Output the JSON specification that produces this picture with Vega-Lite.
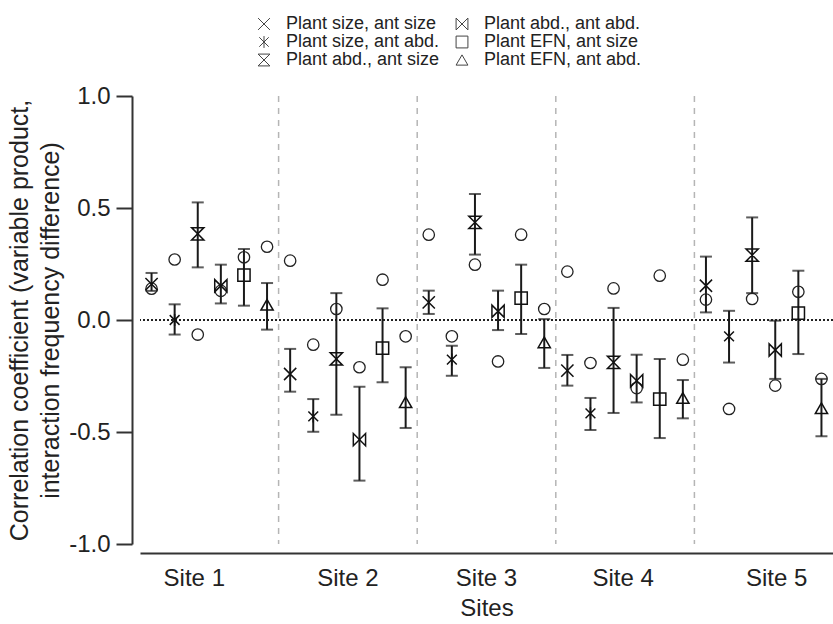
{
  "$schema": "https://vega.github.io/schema/vega-lite/v6.json",
  "autosize": {"type": "none"},
  "padding": {"left": 140, "top": 96, "right": 0, "bottom": 80},
  "width": 693,
  "height": 448,
  "background": "white",
  "config": {
    "font": "Liberation Sans",
    "view": {"stroke": null},
    "legend": {"orient": "none", "legendX": 115, "legendY": -81, "columns": 2, "padding": 0, "rowPadding": 0, "columnPadding": 13, "labelFontSize": 18, "labelColor": "#222", "labelOffset": 13, "symbolSize": 140, "symbolStrokeWidth": 1, "symbolStrokeColor": "#444", "symbolFillColor": "transparent"}
  },
  "datasets": {
    "stats": [
      {"site": "Site 1", "series": "Plant size, ant size", "mean": 0.16, "lo": 0.13, "hi": 0.21, "circ": 0.14},
      {"site": "Site 1", "series": "Plant size, ant abd.", "mean": 0.0, "lo": -0.065, "hi": 0.07, "circ": 0.27},
      {"site": "Site 1", "series": "Plant abd., ant size", "mean": 0.385, "lo": 0.235, "hi": 0.525, "circ": -0.065},
      {"site": "Site 1", "series": "Plant abd., ant abd.", "mean": 0.153, "lo": 0.074, "hi": 0.247, "circ": 0.13},
      {"site": "Site 1", "series": "Plant EFN, ant size", "mean": 0.2, "lo": 0.064, "hi": 0.317, "circ": 0.28},
      {"site": "Site 1", "series": "Plant EFN, ant abd.", "mean": 0.068, "lo": -0.043, "hi": 0.165, "circ": 0.327},
      {"site": "Site 2", "series": "Plant size, ant size", "mean": -0.241, "lo": -0.32, "hi": -0.129, "circ": 0.265},
      {"site": "Site 2", "series": "Plant size, ant abd.", "mean": -0.43, "lo": -0.499, "hi": -0.353, "circ": -0.11},
      {"site": "Site 2", "series": "Plant abd., ant size", "mean": -0.174, "lo": -0.423, "hi": 0.12, "circ": 0.049},
      {"site": "Site 2", "series": "Plant abd., ant abd.", "mean": -0.534, "lo": -0.717, "hi": -0.298, "circ": -0.211},
      {"site": "Site 2", "series": "Plant EFN, ant size", "mean": -0.126, "lo": -0.278, "hi": 0.052, "circ": 0.18},
      {"site": "Site 2", "series": "Plant EFN, ant abd.", "mean": -0.367, "lo": -0.482, "hi": -0.211, "circ": -0.073},
      {"site": "Site 3", "series": "Plant size, ant size", "mean": 0.079, "lo": 0.027, "hi": 0.131, "circ": 0.381},
      {"site": "Site 3", "series": "Plant size, ant abd.", "mean": -0.177, "lo": -0.249, "hi": -0.115, "circ": -0.073},
      {"site": "Site 3", "series": "Plant abd., ant size", "mean": 0.436, "lo": 0.292, "hi": 0.5625, "circ": 0.247},
      {"site": "Site 3", "series": "Plant abd., ant abd.", "mean": 0.039, "lo": -0.045, "hi": 0.131, "circ": -0.185},
      {"site": "Site 3", "series": "Plant EFN, ant size", "mean": 0.098, "lo": -0.0625, "hi": 0.247, "circ": 0.381},
      {"site": "Site 3", "series": "Plant EFN, ant abd.", "mean": -0.1, "lo": -0.214, "hi": 0.004, "circ": 0.049},
      {"site": "Site 4", "series": "Plant size, ant size", "mean": -0.226, "lo": -0.293, "hi": -0.156, "circ": 0.216},
      {"site": "Site 4", "series": "Plant size, ant abd.", "mean": -0.417, "lo": -0.491, "hi": -0.348, "circ": -0.192},
      {"site": "Site 4", "series": "Plant abd., ant size", "mean": -0.189, "lo": -0.415, "hi": 0.054, "circ": 0.141},
      {"site": "Site 4", "series": "Plant abd., ant abd.", "mean": -0.271, "lo": -0.368, "hi": -0.155, "circ": -0.304},
      {"site": "Site 4", "series": "Plant EFN, ant size", "mean": -0.353, "lo": -0.527, "hi": -0.174, "circ": 0.198},
      {"site": "Site 4", "series": "Plant EFN, ant abd.", "mean": -0.348, "lo": -0.439, "hi": -0.268, "circ": -0.177},
      {"site": "Site 5", "series": "Plant size, ant size", "mean": 0.153, "lo": 0.034, "hi": 0.283, "circ": 0.091},
      {"site": "Site 5", "series": "Plant size, ant abd.", "mean": -0.073, "lo": -0.19, "hi": 0.041, "circ": -0.397},
      {"site": "Site 5", "series": "Plant abd., ant size", "mean": 0.29, "lo": 0.12, "hi": 0.458, "circ": 0.094},
      {"site": "Site 5", "series": "Plant abd., ant abd.", "mean": -0.134, "lo": -0.263, "hi": -0.003, "circ": -0.293},
      {"site": "Site 5", "series": "Plant EFN, ant size", "mean": 0.031, "lo": -0.152, "hi": 0.22, "circ": 0.126},
      {"site": "Site 5", "series": "Plant EFN, ant abd.", "mean": -0.394, "lo": -0.519, "hi": -0.263, "circ": -0.263}
    ],
    "seps": [{"site": "Site 2"}, {"site": "Site 3"}, {"site": "Site 4"}, {"site": "Site 5"}]
  },
  "layer": [
    {
      "data": {"name": "seps"},
      "mark": {"type": "rule", "color": "#b5b5b5", "strokeWidth": 1.5, "strokeDash": [6, 6]},
      "encoding": {
        "x": {
          "field": "site", "type": "nominal", "bandPosition": 0,
          "scale": {"domain": ["Site 1", "Site 2", "Site 3", "Site 4", "Site 5"], "paddingInner": 0, "paddingOuter": 0},
          "axis": {
            "title": "Sites", "titleFontSize": 24, "titleFontWeight": "normal", "titleColor": "#222", "titlePadding": 6,
            "labelFontSize": 24, "labelColor": "#222", "labelAngle": 0, "labelPadding": 13,
            "ticks": false, "tickSize": 0, "domainWidth": 2, "domainColor": "#333", "offset": 9,
            "labelOffset": {"condition": [{"test": "datum.value === 'Site 1'", "value": -15}, {"test": "datum.value === 'Site 5'", "value": 13}, {"test": "datum.value === 'Site 4'", "value": -2}], "value": 0}
          }
        }
      }
    },
    {
      "data": {"name": "stats"},
      "mark": {"type": "rule", "color": "#222", "strokeWidth": 1.5, "strokeDash": [2, 2]},
      "encoding": {"y": {"datum": 0}}
    },
    {
      "data": {"name": "stats"},
      "mark": {"type": "rule", "color": "#1a1a1a", "strokeWidth": 2},
      "encoding": {
        "x": {"field": "site", "type": "nominal"},
        "xOffset": {"field": "series", "type": "nominal", "scale": {"domain": ["Plant size, ant size", "Plant size, ant abd.", "Plant abd., ant size", "Plant abd., ant abd.", "Plant EFN, ant size", "Plant EFN, ant abd."], "paddingInner": 0, "paddingOuter": 0}},
        "y": {
          "field": "lo", "type": "quantitative",
          "scale": {"domain": [-1, 1], "nice": false, "zero": false},
          "axis": {
            "title": ["Correlation coefficient (variable product,", "interaction frequency difference)"],
            "titleFontSize": 25, "titleFontWeight": "normal", "titleColor": "#222", "titleLineHeight": 31, "titlePadding": 5,
            "values": [-1, -0.5, 0, 0.5, 1],
            "labelExpr": "replace(format(datum.value, '.1f'), '\u2212', '-')",
            "labelFontSize": 24, "labelColor": "#222", "labelPadding": 6,
            "tickSize": 16, "tickWidth": 2, "tickColor": "#333", "domainWidth": 2, "domainColor": "#333",
            "grid": false, "offset": 8
          }
        },
        "y2": {"field": "hi"}
      }
    },
    {
      "data": {"name": "stats"},
      "mark": {"type": "tick", "color": "#1a1a1a", "thickness": 2, "size": 12},
      "encoding": {
        "x": {"field": "site", "type": "nominal"},
        "xOffset": {"field": "series", "type": "nominal"},
        "y": {"field": "lo", "type": "quantitative"}
      }
    },
    {
      "data": {"name": "stats"},
      "mark": {"type": "tick", "color": "#1a1a1a", "thickness": 2, "size": 12},
      "encoding": {
        "x": {"field": "site", "type": "nominal"},
        "xOffset": {"field": "series", "type": "nominal"},
        "y": {"field": "hi", "type": "quantitative"}
      }
    },
    {
      "data": {"name": "stats"},
      "mark": {"type": "point", "shape": "circle", "filled": false, "color": "#222", "strokeWidth": 1.3, "size": 130, "opacity": 1},
      "encoding": {
        "x": {"field": "site", "type": "nominal"},
        "xOffset": {"field": "series", "type": "nominal"},
        "y": {"field": "circ", "type": "quantitative"}
      }
    },
    {
      "data": {"name": "stats"},
      "mark": {"type": "point", "filled": false, "color": "#111", "strokeWidth": 1.5, "size": 150, "opacity": 1},
      "encoding": {
        "x": {"field": "site", "type": "nominal"},
        "xOffset": {"field": "series", "type": "nominal"},
        "y": {"field": "mean", "type": "quantitative"},
        "shape": {
          "field": "series", "type": "nominal",
          "scale": {
            "domain": ["Plant size, ant size", "Plant size, ant abd.", "Plant abd., ant size", "Plant abd., ant abd.", "Plant EFN, ant size", "Plant EFN, ant abd."],
            "range": ["M-1,-1L1,1M-1,1L1,-1", "M0,-1L0,1M-0.8,-0.8L0.8,0.8M-0.8,0.8L0.8,-0.8", "M-1,-1L1,-1L-1,1L1,1Z", "M-1,-1L1,1L1,-1L-1,1Z", "square", "triangle-up"]
          },
          "legend": {"title": null}
        }
      }
    }
  ]
}
